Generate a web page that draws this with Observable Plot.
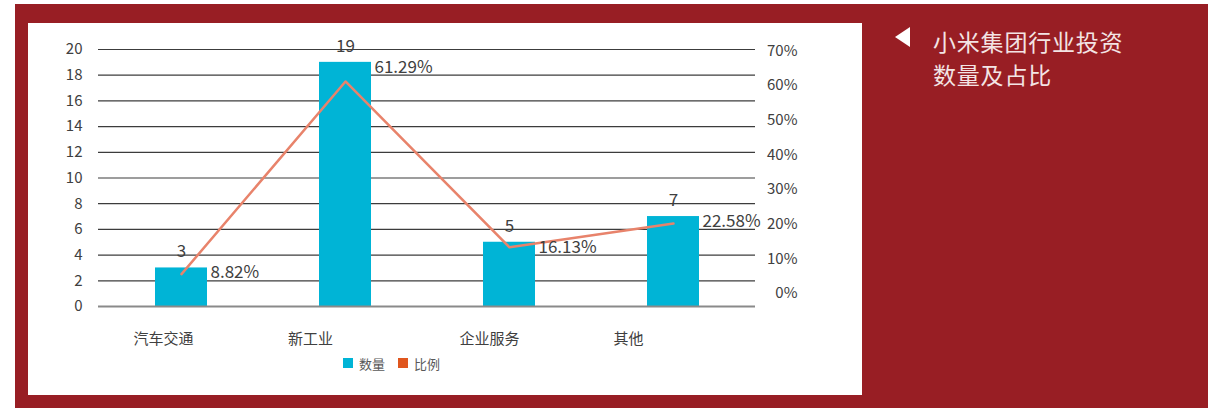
<!DOCTYPE html>
<html>
<head>
<meta charset="utf-8">
<script src="https://cdn.jsdelivr.net/npm/d3@7"></script>
<script src="https://cdn.jsdelivr.net/npm/@observablehq/plot@0.6"></script>
<style>
  html, body { margin: 0; padding: 0; background: #ffffff; }
  body { width: 1208px; height: 408px; position: relative; overflow: hidden; font-family: "Noto Sans CJK SC", "Noto Sans", sans-serif; }
  #bg { position: absolute; left: 15px; top: 4px; right: 0; bottom: 0; background: #981e24; }
  #panel { position: absolute; left: 28px; top: 23px; width: 834px; height: 372px; background: #ffffff; }
  #chart { position: absolute; left: 0; top: 0; }
  #legend { position: absolute; left: 315px; top: 331px; height: 18px; display: flex; align-items: center; font-size: 13px; color: #595959; }
  #legend .sw { width: 10px; height: 10px; display: inline-block; margin-right: 6px; }
  #legend .item { display: flex; align-items: center; margin-right: 13px; }
  #tri { position: absolute; left: 895px; top: 27px; width: 0; height: 0; border-top: 10.5px solid transparent; border-bottom: 10.5px solid transparent; border-right: 15px solid #ffffff; }
  #title { position: absolute; left: 933px; top: 25px; font-size: 23px; line-height: 33px; color: #f3e4e4; letter-spacing: 0.8px; }
</style>
</head>
<body>
<div id="bg"></div>
<div id="panel">
  <div id="chart"></div>
  <div id="legend"></div>
</div>
<div id="tri"></div>
<div id="title">小米集团行业投资<br>数量及占比</div>
<script>
const categories = ["汽车交通", "新工业", "企业服务", "其他"];
const counts = [3, 19, 5, 7];
const ratios = [0.0882, 0.6129, 0.1613, 0.2258];
const ratioLabels = ["8.82%", "61.29%", "16.13%", "22.58%"];
const leftTicks = [0, 2, 4, 6, 8, 10, 12, 14, 16, 18, 20];
const rightTicks = [0, 0.1, 0.2, 0.3, 0.4, 0.5, 0.6, 0.7];
const seriesNames = ["数量", "比例"];

const barColor = "#00b4d6";
const lineColor = "#e8836b";
const legendColors = ["#00b4d6", "#e0561e"];
const textColor = "#404040";

const data = categories.map((c, i) => ({cat: c, count: counts[i], ratio: ratios[i], label: ratioLabels[i]}));

// line is drawn on a 0–70% scale that spans the same height as the 0–20 count axis
const ratioToY = p => p * 20 / 0.7;
// the secondary axis labels as laid out in the source chart
const rightTickToY = p => 1 + p * 27;

// category labels sit left of their bars in the source chart
const labelDx = [-18, -35, -20, -45];

const chart = Plot.plot({
  width: 834,
  height: 330,
  marginLeft: 70,
  marginRight: 107,
  marginTop: 26,
  marginBottom: 47,
  style: {fontFamily: '"Noto Sans CJK SC", "Noto Sans", sans-serif', background: "transparent"},
  x: {domain: categories, paddingInner: 0.683, paddingOuter: 0.3415, axis: null},
  y: {domain: [0, 20], axis: null},
  marks: [
    Plot.ruleY(leftTicks.filter(d => d > 0), {stroke: "#3c3c3c", strokeWidth: 1.2}),
    Plot.barY(data, {x: "cat", y: "count", fill: barColor}),
    Plot.ruleY([0], {stroke: "#8a8a8a", strokeWidth: 2}),
    Plot.axisY({ticks: leftTicks, tickSize: 0, tickPadding: 16, fontSize: 15, color: textColor, label: null}),
    Plot.text(rightTicks, {y: rightTickToY, text: d3.format(".0%"), frameAnchor: "right", dx: 42, textAnchor: "end", fontSize: 15, fill: textColor}),
    Plot.line(data, {x: "cat", y: d => ratioToY(d.ratio), stroke: lineColor, strokeWidth: 2.5}),
    Plot.text(data, {x: "cat", y: "count", text: d => String(d.count), dy: -16, fontSize: 17, fill: textColor}),
    Plot.text(data, {x: "cat", y: "count", text: "label", dx: 29, dy: 5, textAnchor: "start", fontSize: 17, fill: textColor}),
    ...categories.map((c, i) => Plot.text([c], {x: d => d, frameAnchor: "bottom", dy: 37, dx: labelDx[i], fontSize: 15, fill: textColor}))
  ]
});
document.getElementById("chart").appendChild(chart);

const legend = document.getElementById("legend");
seriesNames.forEach((n, i) => {
  const item = document.createElement("div");
  item.className = "item";
  const sw = document.createElement("span");
  sw.className = "sw";
  sw.style.background = legendColors[i];
  const t = document.createElement("span");
  t.textContent = n;
  item.appendChild(sw);
  item.appendChild(t);
  legend.appendChild(item);
});
</script>
</body>
</html>
